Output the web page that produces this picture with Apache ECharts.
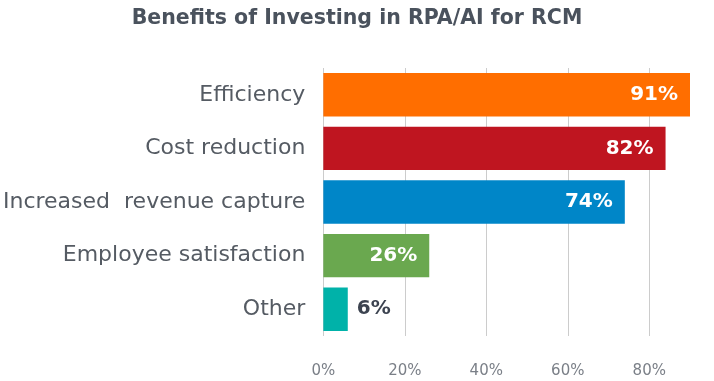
<!DOCTYPE html>
<html>
<head>
<meta charset="utf-8">
<script src="https://cdn.jsdelivr.net/npm/echarts@6/dist/echarts.min.js"></script>
<style>
html,body{margin:0;padding:0;background:#fff;}
#chart{width:714px;height:381px;}
</style>
</head>
<body>
<div id="chart"></div>
<script>
var categories = ["Efficiency", "Cost reduction", "Increased  revenue capture", "Employee satisfaction", "Other"];
var values = [90, 84, 74, 26, 6];
var valueLabels = ["91%", "82%", "74%", "26%", "6%"];
var barColors = ["#ff6e00", "#bf1520", "#0086c8", "#6aa84f", "#00b2a9"];
var xTicks = [0, 20, 40, 60, 80];

var chart = echarts.init(document.getElementById('chart'), null, {renderer: 'canvas'});
var data = values.map(function (v, i) {
  var inside = v > 15;
  return {
    value: v,
    itemStyle: {color: barColors[i]},
    label: {
      show: true,
      position: inside ? 'insideRight' : 'right',
      distance: inside ? 12 : 9,
      color: inside ? '#ffffff' : '#3c4350',
      formatter: valueLabels[i]
    }
  };
});
chart.setOption({
  animation: false,
  title: {
    text: 'Benefits of Investing in RPA/AI for RCM',
    left: 'center',
    top: 3,
    textStyle: {fontFamily: 'DejaVu Sans', fontSize: 20.5, fontWeight: 'bold', color: '#4a525d'}
  },
  grid: {left: 323, right: 24, top: 68, bottom: 45, containLabel: false},
  xAxis: {
    type: 'value',
    min: 0,
    max: 90,
    interval: 20,
    axisLine: {show: false},
    axisTick: {show: false},
    axisLabel: {
      showMaxLabel: false,
      margin: 28,
      fontFamily: 'DejaVu Sans',
      fontSize: 15,
      color: '#7a7f87',
      formatter: function (v) { return xTicks.indexOf(v) >= 0 ? v + '%' : ''; }
    },
    splitLine: {show: true, showMaxLine: false, lineStyle: {color: '#cccccc', width: 1}}
  },
  yAxis: {
    type: 'category',
    inverse: true,
    data: categories,
    axisLine: {show: false},
    axisTick: {show: false},
    axisLabel: {
      margin: 18,
      fontFamily: 'DejaVu Sans',
      fontSize: 22,
      color: '#555b63'
    }
  },
  series: [{
    type: 'bar',
    data: data,
    barCategoryGap: '19%',
    label: {fontFamily: 'DejaVu Sans', fontSize: 20, fontWeight: 'bold'}
  }]
});
</script>
</body>
</html>
